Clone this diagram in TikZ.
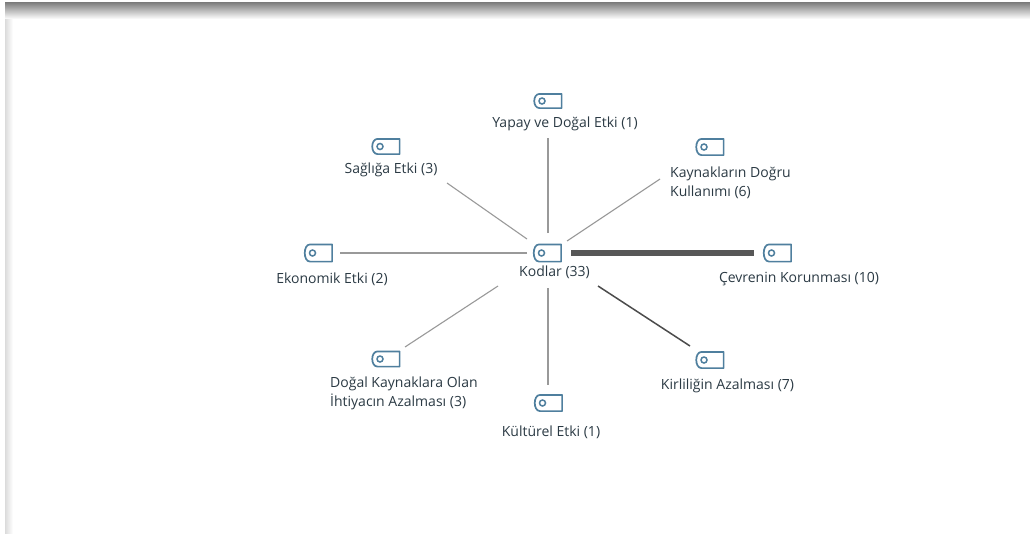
\documentclass[tikz,border=0pt]{standalone}
\usepackage{fontspec}
\setmainfont{Open Sans}
\definecolor{tagblue}{HTML}{4F7F9E}
\definecolor{lblue}{HTML}{2B3A44}
\begin{document}
\begin{tikzpicture}[x=1pt,y=-1pt,
  tagnode/.style={minimum width=30pt,minimum height=17pt,inner sep=0pt,
    path picture={
      \draw[tagblue,line width=1.7pt,line join=round]
        ([xshift=7pt,yshift=-0.9pt]path picture bounding box.north west)
        -- ([xshift=-0.9pt,yshift=-0.9pt]path picture bounding box.north east)
        -- ([xshift=-0.9pt,yshift=0.9pt]path picture bounding box.south east)
        -- ([xshift=7pt,yshift=0.9pt]path picture bounding box.south west)
        .. controls ([xshift=0pt,yshift=1pt]path picture bounding box.south west)
        and ([xshift=0pt,yshift=-1pt]path picture bounding box.north west)
        .. ([xshift=7pt,yshift=-0.9pt]path picture bounding box.north west) -- cycle;
      \draw[tagblue,line width=1.5pt] ([xshift=9.5pt]path picture bounding box.west) circle (3pt);
    }},
  lbl/.style={font=\fontsize{14pt}{19pt}\selectfont,text=lblue,inner sep=0pt,align=left},
  spoke/.style={draw=black!40,line width=1.1pt},
  darkspoke/.style={draw=black!70,line width=1.5pt},
  thickspoke/.style={draw=black!66,line width=5.5pt}]
\useasboundingbox (0,0) rectangle (1030,533);
\fill[white] (0,0) rectangle (1030,533);
\shade[top color=black!52,bottom color=white] (5,2) rectangle (1030,19);
\shade[left color=black!14,right color=white] (5,19) rectangle (13,533);

\node[tagnode,minimum height=16pt] (top) at (547.5,101) {};
\node[tagnode] (health) at (385.5,146.5) {};
\node[tagnode,minimum height=18pt] (res) at (709.5,147) {};
\node[tagnode,minimum height=19pt] (eco) at (318,253) {};
\node[tagnode,minimum height=19pt] (hub) at (547,253) {};
\node[tagnode,minimum height=19pt] (env) at (777,253) {};
\node[tagnode,minimum height=18pt] (poll) at (709.5,360) {};
\node[tagnode] (need) at (385.5,359) {};
\node[tagnode,minimum height=18pt] (cult) at (548,403) {};

\node[lbl] (tTop) at (565,124) {Yapay ve Doğal Etki (1)};
\node[lbl] (tHealth) at (391,169.5) {Sağlığa Etki (3)};
\node[lbl,anchor=west] (tRes) at (670,182.5) {Kaynakların Doğru\\Kullanımı (6)};
\node[lbl] (tEco) at (332,279) {Ekonomik Etki (2)};
\node[lbl] (tHub) at (554.5,272) {Kodlar (33)};
\node[lbl] (tEnv) at (799,279) {Çevrenin Korunması (10)};
\node[lbl] (tPoll) at (727.5,386) {Kirliliğin Azalması (7)};
\node[lbl,anchor=west] (tNeed) at (330,393.5) {Doğal Kaynaklara Olan\\İhtiyacın Azalması (3)};
\node[lbl] (tCult) at (551,432) {Kültürel Etki (1)};

\coordinate (a1) at (548,233); \coordinate (b1) at (548,138);
\coordinate (a2) at (527,239); \coordinate (b2) at (447,183);
\coordinate (a3) at (567,241); \coordinate (b3) at (660,179);
\coordinate (a4) at (527,253); \coordinate (b4) at (340,253);
\coordinate (a5) at (571,253); \coordinate (b5) at (754,253);
\coordinate (a6) at (598,286); \coordinate (b6) at (690,346);
\coordinate (a7) at (548,288); \coordinate (b7) at (548,385);
\coordinate (a8) at (498,286); \coordinate (b8) at (405,347);
\draw[spoke] (a1) -- (b1);
\draw[spoke] (a2) -- (b2);
\draw[spoke] (a3) -- (b3);
\draw[spoke] (a4) -- (b4);
\draw[thickspoke] (a5) -- (b5);
\draw[darkspoke] (a6) -- (b6);
\draw[spoke] (a7) -- (b7);
\draw[spoke] (a8) -- (b8);
\end{tikzpicture}
\end{document}
